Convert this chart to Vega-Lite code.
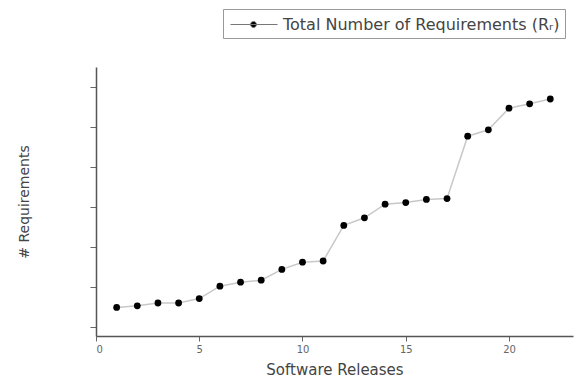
{
  "$schema": "https://vega.github.io/schema/vega-lite/v6.json",
  "width": 477,
  "height": 269,
  "autosize": {"type": "none"},
  "padding": {"left": 96, "top": 67, "right": 12, "bottom": 47},
  "background": "white",
  "config": {
    "view": {"stroke": null},
    "font": "DejaVu Sans"
  },
  "data": {
    "values": [
      {"release": 1, "req": 149, "series": "Total Number of Requirements (Rᵣ)"},
      {"release": 2, "req": 153, "series": "Total Number of Requirements (Rᵣ)"},
      {"release": 3, "req": 160, "series": "Total Number of Requirements (Rᵣ)"},
      {"release": 4, "req": 160, "series": "Total Number of Requirements (Rᵣ)"},
      {"release": 5, "req": 171, "series": "Total Number of Requirements (Rᵣ)"},
      {"release": 6, "req": 202, "series": "Total Number of Requirements (Rᵣ)"},
      {"release": 7, "req": 212, "series": "Total Number of Requirements (Rᵣ)"},
      {"release": 8, "req": 217, "series": "Total Number of Requirements (Rᵣ)"},
      {"release": 9, "req": 244, "series": "Total Number of Requirements (Rᵣ)"},
      {"release": 10, "req": 262, "series": "Total Number of Requirements (Rᵣ)"},
      {"release": 11, "req": 265, "series": "Total Number of Requirements (Rᵣ)"},
      {"release": 12, "req": 354, "series": "Total Number of Requirements (Rᵣ)"},
      {"release": 13, "req": 373, "series": "Total Number of Requirements (Rᵣ)"},
      {"release": 14, "req": 407, "series": "Total Number of Requirements (Rᵣ)"},
      {"release": 15, "req": 411, "series": "Total Number of Requirements (Rᵣ)"},
      {"release": 16, "req": 419, "series": "Total Number of Requirements (Rᵣ)"},
      {"release": 17, "req": 421, "series": "Total Number of Requirements (Rᵣ)"},
      {"release": 18, "req": 577, "series": "Total Number of Requirements (Rᵣ)"},
      {"release": 19, "req": 593, "series": "Total Number of Requirements (Rᵣ)"},
      {"release": 20, "req": 647, "series": "Total Number of Requirements (Rᵣ)"},
      {"release": 21, "req": 658, "series": "Total Number of Requirements (Rᵣ)"},
      {"release": 22, "req": 670, "series": "Total Number of Requirements (Rᵣ)"}
    ]
  },
  "encoding": {
    "x": {
      "field": "release", "type": "quantitative",
      "scale": {"domain": [0, 23.1], "nice": false, "zero": false},
      "axis": {
        "values": [0, 5, 10, 15, 20],
        "title": "Software Releases",
        "grid": false,
        "domainColor": "#555", "domainWidth": 1.5,
        "tickColor": "#666", "tickSize": 5, "tickWidth": 1,
        "labelFont": "DejaVu Sans", "labelFontSize": 10, "labelColor": "#666",
        "labelPadding": 3,
        "titleFont": "DejaVu Sans", "titleFontSize": 15, "titleFontWeight": "normal",
        "titleColor": "#444", "titlePadding": 8
      }
    },
    "y": {
      "field": "req", "type": "quantitative",
      "scale": {"domain": [77.5, 750], "nice": false, "zero": false},
      "axis": {
        "values": [100, 200, 300, 400, 500, 600, 700],
        "labels": false,
        "title": "# Requirements",
        "grid": false,
        "domainColor": "#555", "domainWidth": 1.5,
        "tickColor": "#666", "tickSize": 6, "tickWidth": 1,
        "titleFont": "DejaVu Sans", "titleFontSize": 14, "titleFontWeight": "normal",
        "titleColor": "#444", "titlePadding": 58
      }
    }
  },
  "layer": [
    {
      "mark": {"type": "line", "color": "#c8c8c8", "strokeWidth": 1.5}
    },
    {
      "mark": {"type": "point", "shape": "circle", "filled": true, "size": 46, "opacity": 1},
      "encoding": {
        "color": {
          "field": "series", "type": "nominal",
          "scale": {"range": ["black"]},
          "legend": {
            "title": null,
            "orient": "none",
            "legendX": 127,
            "legendY": -58,
            "strokeColor": "#999",
            "padding": 5,
            "symbolType": "M-0.8,0H3.9M1.2,0A0.3,0.3 0 1 0 1.8,0A0.3,0.3 0 1 0 1.2,0Z",
            "symbolSize": 400,
            "symbolStrokeColor": "#777",
            "symbolStrokeWidth": 1,
            "labelOffset": 34,
            "labelFont": "DejaVu Sans",
            "labelFontSize": 16,
            "labelColor": "#444",
            "labelLimit": 420,
            "encode": {
              "legend": {"update": {"width": {"value": 349}}},
              "symbols": {"update": {"stroke": {"value": "#777"}, "strokeWidth": {"value": 1}, "fill": {"value": "black"}}}
            }
          }
        }
      }
    }
  ]
}
